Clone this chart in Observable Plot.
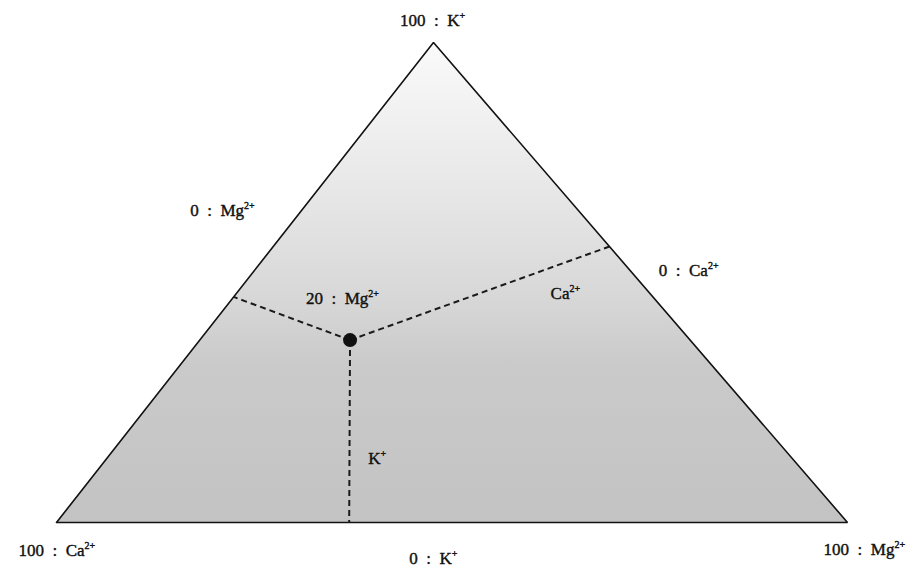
<!DOCTYPE html>
<html>
<head>
<meta charset="utf-8">
<script src="https://cdn.jsdelivr.net/npm/d3@7"></script>
<script src="https://cdn.jsdelivr.net/npm/@observablehq/plot@0.6"></script>
<style>
  html, body { margin: 0; padding: 0; background: #fff; }
  #chart svg { display: block; }
</style>
</head>
<body>
<div id="chart"></div>
<script>
// Ternary components (order: K, Ca, Mg), values in percent
const components = ["K⁺", "Ca²⁺", "Mg²⁺"];

// Triangle vertices (pure components)
const vertexK  = [100, 0, 0];
const vertexCa = [0, 100, 0];
const vertexMg = [0, 0, 100];

// Sample composition (K, Ca, Mg)
const sampleK = [38];
const sampleCa = [43];
const sampleMg = [19];

// Feet of the dashed reading lines: [on Mg = 0 side, on Ca = 0 side, on K = 0 base]
const footK  = [47, 57.5, 0];
const footCa = [53, 0, 63];
const footMg = [0, 42.5, 37];

// Annotation texts and their anchor compositions (K, Mg)
const labelText = ["100 : K⁺", "100 : Ca²⁺", "100 : Mg²⁺", "0 : Mg²⁺", "0 : Ca²⁺", "0 : K⁺", "20 : Mg²⁺", "Ca²⁺", "K⁺"];
const labelK    = [104.6, -5.8, -5.6, 65.0, 52.5, -7.5, 46.7, 47.7, 13.3];
const labelMg   = [-2.3, 2.8, 104.8, -10.0, 54.9, 51.2, 13.9, 41.6, 34.2];

// Horizontal position of the apex in the drawn triangle (fraction of the base)
const apexShift = 0.4766;
const proj = (k, mg) => ({ x: mg / 100 + apexShift * k / 100, y: k / 100 });

const triangle = [vertexCa, vertexK, vertexMg].map(v => proj(v[0], v[2]));
const outline = [vertexCa, vertexK, vertexMg, vertexCa].map(v => proj(v[0], v[2]));
const point = proj(sampleK[0], sampleMg[0]);
const feet = footK.map((k, i) => proj(k, footMg[i]));
const links = feet.map(f => ({ x1: point.x, y1: point.y, x2: f.x, y2: f.y }));
const labels = labelText.map((t, i) => ({ text: t.replace(" : ", "\u2002:\u2002"), ...proj(labelK[i], labelMg[i]) }));

const plot = Plot.plot({
  width: 913,
  height: 569,
  marginLeft: 56,
  marginRight: 66,
  marginTop: 42,
  marginBottom: 47,
  x: { domain: [0, 1], axis: null },
  y: { domain: [0, 1], axis: null },
  style: { fontFamily: "Liberation Serif", fontSize: "17px", background: "#fff", color: "#111" },
  marks: [
    Plot.areaY(triangle, { x: "x", y1: 0, y2: "y", fill: "url(#triGrad)", curve: "linear" }),
    Plot.line(outline, { x: "x", y: "y", stroke: "#111", strokeWidth: 1.6, strokeLinejoin: "miter" }),
    Plot.link(links, { x1: "x1", y1: "y1", x2: "x2", y2: "y2", stroke: "#1a1a1a", strokeWidth: 2, strokeDasharray: "6,4" }),
    Plot.dot([point], { x: "x", y: "y", r: 7, fill: "#111", stroke: "none" }),
    Plot.text(labels, { x: "x", y: "y", text: "text", fill: "#111", stroke: "#111", strokeWidth: 0.4, textAnchor: "middle" })
  ]
});

// gradient definition for the triangle fill
const ns = "http://www.w3.org/2000/svg";
const defs = document.createElementNS(ns, "defs");
const grad = document.createElementNS(ns, "linearGradient");
grad.setAttribute("id", "triGrad");
grad.setAttribute("x1", "0"); grad.setAttribute("y1", "0");
grad.setAttribute("x2", "0"); grad.setAttribute("y2", "1");
[[0, "#fafafa"], [0.33, "#e6e6e6"], [0.55, "#d6d6d6"], [0.67, "#cacaca"], [1, "#c3c3c3"]].forEach(([o, c]) => {
  const s = document.createElementNS(ns, "stop");
  s.setAttribute("offset", o);
  s.setAttribute("stop-color", c);
  grad.appendChild(s);
});
defs.appendChild(grad);
plot.insertBefore(defs, plot.firstChild);

// render superscript charges as raised small text
for (const t of plot.querySelectorAll("text")) {
  const s = t.textContent;
  const m = s.match(/^(.*?)([²⁺]+)$/);
  if (!m) continue;
  t.textContent = m[1];
  const sup = document.createElementNS(ns, "tspan");
  sup.setAttribute("font-size", "10");
  sup.setAttribute("dy", "-7");
  sup.textContent = m[2].replace("²", "2").replace("⁺", "+");
  t.appendChild(sup);
}

document.getElementById("chart").appendChild(plot);
</script>
</body>
</html>
